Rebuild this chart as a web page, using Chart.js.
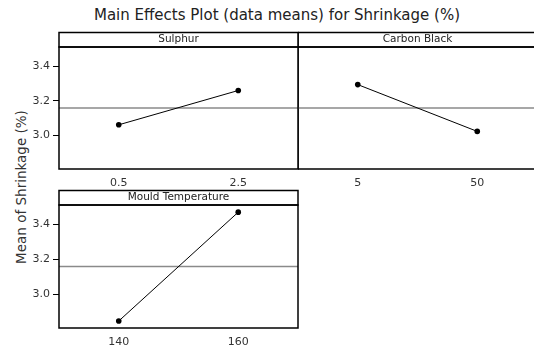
<!DOCTYPE html>
<html>
<head>
<meta charset="utf-8">
<script src="https://cdn.jsdelivr.net/npm/chart.js@4.4.1/dist/chart.umd.min.js"></script>
<style>
    body { margin: 0; width: 534px; height: 350px; overflow: hidden; background: #fff; position: relative; font-family: "DejaVu Sans", sans-serif; }
    #title { position: absolute; left: 10px; top: 6px; width: 534px; text-align: center; font-size: 15px; color: #222; }
    #ylab { position: absolute; left: 21px; top: 187px; transform: translate(-50%, -50%) rotate(-90deg); white-space: nowrap; font-size: 13.5px; color: #333; }
    canvas { position: absolute; }
</style>
</head>
<body>
<div id="title">Main Effects Plot (data means) for Shrinkage (%)</div>
<div id="ylab">Mean of Shrinkage (%)</div>
<canvas id="cA" width="300" height="200" style="left:0;top:0"></canvas>
<canvas id="cB" width="241" height="200" style="left:298px;top:0"></canvas>
<canvas id="cC" width="300" height="190" style="left:0;top:160px"></canvas>
<script>
// datos
const sulphurLevels = ["0.5", "2.5"];
const sulphurMeans = [3.061, 3.259];
const carbonLevels = ["5", "50"];
const carbonMeans = [3.293, 3.023];
const mouldLevels = ["140", "160"];
const mouldMeans = [2.846, 3.469];
const grandMean = 3.158;
const yTicks = [3.0, 3.2, 3.4];
const yMin = 2.806;
const yMax = 3.51;

// Marco del panel, cabecera y linea de la media
const panelFrame = {
    id: "panelFrame",
    beforeDatasetsDraw(chart, args, opts) {
        const ctx = chart.ctx;
        const a = chart.chartArea;
        const y = chart.scales.y.getPixelForValue(grandMean);
        ctx.save();
        ctx.strokeStyle = "#8a8a8a";
        ctx.lineWidth = 1.5;
        ctx.beginPath();
        ctx.moveTo(a.left, y);
        ctx.lineTo(a.right, y);
        ctx.stroke();
        ctx.restore();
    },
    afterDraw(chart, args, opts) {
        const ctx = chart.ctx;
        const a = chart.chartArea;
        const h = 14.5;
        ctx.save();
        ctx.strokeStyle = "#000";
        ctx.lineWidth = 1.5;
        ctx.strokeRect(a.left, a.top, a.right - a.left, a.bottom - a.top);
        ctx.strokeRect(a.left, a.top - h, a.right - a.left, h);
        ctx.fillStyle = "#222";
        ctx.font = "10.5px 'DejaVu Sans'";
        ctx.textAlign = "center";
        ctx.textBaseline = "middle";
        ctx.fillText(opts.text, (a.left + a.right) / 2, a.top - h / 2);
        ctx.restore();
    },
};

function makePanel(id, header, labels, values, showY, padTop, xHeight) {
    const ctx = document.getElementById(id).getContext("2d");
    return new Chart(ctx, {
        type: "line",
        data: {
            labels: labels,
            datasets: [
                {
                    data: values,
                    borderColor: "#000",
                    borderWidth: 1,
                    backgroundColor: "#000",
                    pointRadius: 2.8,
                    pointBorderWidth: 0,
                    tension: 0,
                },
            ],
        },
        plugins: [panelFrame],
        options: {
            responsive: false,
            animation: false,
            layout: { autoPadding: false, padding: { top: padTop, right: 2, left: 0, bottom: 0 } },
            scales: {
                x: {
                    type: "category",
                    offset: true,
                    grid: { display: false, drawTicks: false },
                    border: { display: false },
                    ticks: {
                        color: "#333",
                        font: { family: "DejaVu Sans", size: 11 },
                        padding: 8,
                        maxRotation: 0,
                    },
                    afterFit(scale) {
                        scale.height = xHeight;
                    },
                },
                y: {
                    display: showY,
                    min: yMin,
                    max: yMax,
                    afterBuildTicks(scale) {
                        scale.ticks = yTicks.map((v) => ({ value: v }));
                    },
                    grid: {
                        drawOnChartArea: false,
                        drawTicks: true,
                        tickLength: 6,
                        color: "#000",
                    },
                    border: { display: false },
                    ticks: {
                        color: "#333",
                        font: { family: "DejaVu Sans", size: 11 },
                        padding: 3,
                        callback: (v) => v.toFixed(1),
                    },
                    afterFit(scale) {
                        scale.width = showY ? 59 : 0;
                    },
                },
            },
            plugins: {
                legend: { display: false },
                tooltip: { enabled: false },
                panelFrame: { text: header },
            },
        },
    });
}

makePanel("cA", "Sulphur", sulphurLevels, sulphurMeans, true, 47, 31);
makePanel("cB", "Carbon Black", carbonLevels, carbonMeans, false, 47, 31);
makePanel("cC", "Mould Temperature", mouldLevels, mouldMeans, true, 45, 22);
</script>
</body>
</html>
